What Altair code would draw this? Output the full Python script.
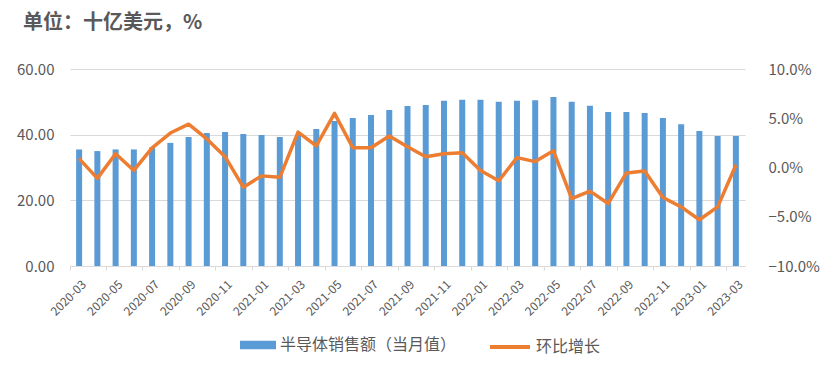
import altair as alt
import pandas as pd

months = ["2020-03", "2020-04", "2020-05", "2020-06", "2020-07", "2020-08", "2020-09",
          "2020-10", "2020-11", "2020-12", "2021-01", "2021-02", "2021-03", "2021-04",
          "2021-05", "2021-06", "2021-07", "2021-08", "2021-09", "2021-10", "2021-11",
          "2021-12", "2022-01", "2022-02", "2022-03", "2022-04", "2022-05", "2022-06",
          "2022-07", "2022-08", "2022-09", "2022-10", "2022-11", "2022-12", "2023-01",
          "2023-02", "2023-03"]
sales = [35.5, 35.0, 35.5, 35.5, 36.1, 37.5, 39.3, 40.5, 40.8, 40.2, 39.9, 39.3, 40.0,
         41.7, 44.2, 45.1, 46.0, 47.5, 48.7, 49.0, 50.3, 50.6,
         50.6, 50.0, 50.3, 50.5, 51.5, 50.0, 48.8, 46.9, 46.9, 46.6, 45.1, 43.2,
         41.1, 39.6, 39.6]
mom = [0.9, -1.1, 1.4, -0.3, 2.0, 3.5, 4.4, 2.9, 1.1, -2.0, -0.85, -1.0, 3.6,
       2.2, 5.5, 2.0, 2.0, 3.2, 2.1, 1.1, 1.4, 1.5,
       -0.3, -1.35, 1.0, 0.6, 1.7, -3.15, -2.4, -3.65, -0.55, -0.35, -3.05, -4.0,
       -5.3, -4.0, 0.25]
x_label_values = months[::2]
left_ticks = [0, 20, 40, 60]
right_ticks = [-10, -5, 0, 5, 10]
bar_name = "半导体销售额（当月值）"
line_name = "环比增长"
title_text = "单位：十亿美元，%"

df = pd.DataFrame({"month": months, "sales": sales, "mom": mom})
FONT = "Noto Sans CJK SC"
GRAY = "#595959"
BLUE = "#5B9BD5"
ORANGE = "#ED7D31"

base = alt.Chart(df).encode(
    x=alt.X(
        "month:O", sort=None,
        scale=alt.Scale(paddingInner=0, paddingOuter=0),
        axis=alt.Axis(
            title=None, values=x_label_values, labelAngle=315, labelAlign="right",
            labelBaseline="middle", labelFontSize=12, labelColor=GRAY, labelFont=FONT,
            labelPadding=12, bandPosition=0, labelOffset=5, tickColor="#D9D9D9",
            tickSize=4, domainColor="#D9D9D9", labelOverlap=False,
        ),
    )
)

bars = base.mark_bar(size=6).transform_calculate(s1=f"'{bar_name}'").encode(
    y=alt.Y(
        "sales:Q", scale=alt.Scale(domain=[0, 60]),
        axis=alt.Axis(
            title=None, values=left_ticks, format=".2f", grid=True, gridColor="#D9D9D9",
            domain=False, ticks=False, labelFontSize=15, labelColor=GRAY, labelFont=FONT,
            labelPadding=16,
        ),
    ),
    fill=alt.Fill(
        "s1:N", scale=alt.Scale(domain=[bar_name], range=[BLUE]),
        legend=alt.Legend(
            title=None, orient="none", legendX=170, legendY=258, padding=0,
            symbolType="M-1,-0.24H1V0.24H-1Z", symbolSize=1296, symbolStrokeWidth=0,
            labelFontSize=16, labelFont=FONT, labelColor=GRAY, labelOffset=4,
            labelLimit=400,
        ),
    ),
)

line = base.mark_line(strokeWidth=3.5, strokeJoin="round").transform_calculate(
    s2=f"'{line_name}'"
).encode(
    y=alt.Y(
        "mom:Q", scale=alt.Scale(domain=[-10, 10]),
        axis=alt.Axis(
            title=None, orient="right", values=right_ticks, grid=False, domain=False,
            ticks=False, labelExpr="format(datum.value, '.1f') + '%'", labelFontSize=15,
            labelColor=GRAY, labelFont=FONT, labelPadding=23,
        ),
    ),
    stroke=alt.Stroke(
        "s2:N", scale=alt.Scale(domain=[line_name], range=[ORANGE]),
        legend=alt.Legend(
            title=None, orient="none", legendX=418, legendY=256, padding=0,
            symbolType="stroke", symbolSize=1600, symbolStrokeWidth=4,
            labelFontSize=16, labelFont=FONT, labelColor=GRAY, labelOffset=4,
            labelLimit=400,
        ),
    ),
)

chart = alt.layer(bars, line).resolve_scale(
    y="independent", fill="independent", stroke="independent"
).properties(
    width=675, height=197,
    autosize=alt.AutoSizeParams(type="none"),
    padding={"left": 62, "top": 61, "right": 77, "bottom": 92},
    title=alt.TitleParams(
        title_text, anchor="start", frame="group", fontSize=20, font=FONT, color=GRAY,
        fontWeight="bold", dx=-47, dy=-25,
    ),
).configure_view(stroke=None)

chart.save("out.html", embed_options={"renderer": "svg", "actions": False})
